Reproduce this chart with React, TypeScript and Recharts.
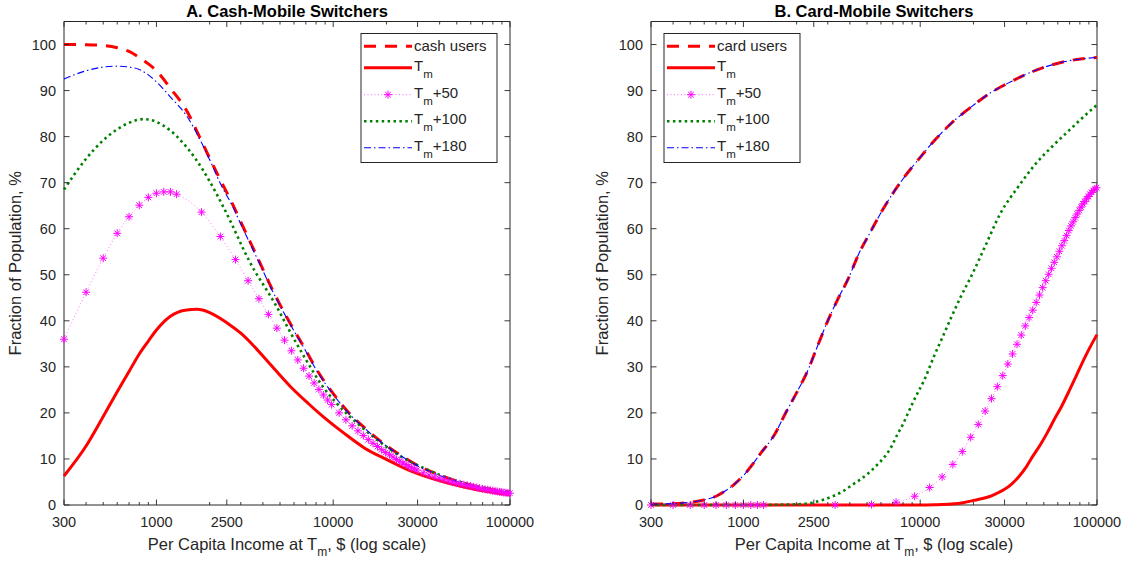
import React from 'react';
import { LineChart, Line, XAxis, YAxis, ReferenceArea } from 'recharts';

// ---------------- data ----------------
const xTicksMajor = [300, 1000, 2500, 10000, 30000, 100000];
const xTicksMinor = [400, 500, 600, 700, 800, 900, 2000, 3000, 4000, 5000, 6000, 7000, 8000, 9000, 20000, 40000, 50000, 60000, 70000, 80000, 90000];
const yTicks = [0, 10, 20, 30, 40, 50, 60, 70, 80, 90, 100];

// Panel A: Cash-Mobile switchers
const aCashX = [300, 400, 500, 600, 700, 800, 900, 1000, 1200, 1500, 1750, 2000, 2300, 2700, 3000, 3500, 4000, 4500, 5000, 6000, 7000, 8000, 10000, 12000, 15000, 20000, 25000, 30000, 40000, 50000, 65000, 80000, 100000];
const aCashUsers = [100, 99.95, 99.8, 99.3, 98.5, 97.2, 95.8, 94.3, 90.5, 85.3, 80.0, 75.3, 70.6, 65.3, 61.5, 56.0, 51.2, 47.0, 43.5, 38.0, 33.6, 29.6, 24.2, 20.4, 16.8, 12.9, 10.4, 8.6, 6.5, 5.2, 4.0, 3.3, 2.8];
const aTm180 = [92.5, 94.3, 95.1, 95.3, 95.1, 94.6, 93.4, 91.9, 88.6, 84.2, 79.6, 75.0, 69.8, 64.8, 61.0, 55.6, 50.9, 46.7, 43.3, 37.8, 33.4, 29.4, 24.0, 20.3, 16.7, 12.8, 10.3, 8.5, 6.4, 5.1, 3.9, 3.2, 2.7];

const aTm100X = [300, 400, 500, 600, 700, 850, 1000, 1200, 1400, 1650, 2000, 2400, 2700, 3100, 3600, 4000, 4800, 5500, 7000, 8700, 10500, 14000, 18500, 24500, 35000, 50000, 70000, 100000];
const aTm100 = [68.5, 75.2, 79.2, 81.6, 83.0, 83.8, 83.2, 81.3, 78.8, 75.4, 70.3, 64.6, 60.6, 55.6, 50.8, 48.0, 43.0, 38.7, 31.6, 25.8, 22.0, 17.4, 13.6, 10.4, 7.5, 5.2, 3.8, 2.8];

const aTmX = [300, 400, 500, 600, 700, 800, 900, 1000, 1200, 1450, 1700, 2000, 2500, 3000, 3500, 4300, 5700, 7200, 8700, 11500, 15000, 20000, 29500, 45000, 65000, 100000];
const aTm = [6.3, 12.8, 19.2, 24.6, 29.0, 32.8, 35.6, 38.0, 41.0, 42.3, 42.5, 41.8, 39.6, 37.3, 34.8, 31.0, 25.8, 22.1, 19.3, 15.6, 12.4, 9.9, 6.9, 4.7, 3.3, 2.2];

const aTm50X = [300, 400, 500, 600, 700, 800, 900, 1000, 1100, 1200, 1300, 1800, 2300, 2800, 3300, 3800, 4300, 4800, 5300, 5800, 6300, 6800, 7300, 7800, 8300, 8800, 9300, 9800, 10800, 11800, 12800, 13800, 14800, 15800, 16800, 17800, 18800, 19800, 20800, 21800, 22800, 23800, 24800, 25800, 26800, 27800, 28800, 29800, 32300, 34800, 37300, 39800, 42300, 44800, 47300, 49800, 52300, 54800, 57300, 59800, 62300, 64800, 67300, 69800, 72300, 74800, 77300, 79800, 82300, 84800, 87300, 89800, 92300, 94800, 97300, 99800];
const aTm50 = [36.0, 46.2, 53.6, 59.0, 62.6, 65.1, 66.8, 67.7, 68.0, 68.0, 67.5, 63.6, 58.3, 53.3, 48.7, 44.8, 41.4, 38.4, 35.8, 33.5, 31.5, 29.7, 28.0, 26.5, 25.1, 23.9, 22.8, 21.8, 20.0, 18.5, 17.2, 16.1, 15.1, 14.2, 13.4, 12.7, 12.0, 11.4, 10.9, 10.4, 9.9, 9.5, 9.1, 8.8, 8.4, 8.1, 7.8, 7.6, 7.0, 6.5, 6.1, 5.8, 5.5, 5.2, 4.95, 4.75, 4.6, 4.4, 4.25, 4.1, 3.95, 3.8, 3.65, 3.5, 3.4, 3.3, 3.2, 3.1, 3.0, 2.95, 2.85, 2.8, 2.7, 2.65, 2.6, 2.55];

// Panel B: Card-Mobile switchers
const bCardX = [300, 400, 500, 600, 700, 800, 900, 1000, 1250, 1500, 1750, 2000, 2300, 2600, 3000, 3400, 3900, 4500, 5200, 5900, 6900, 8200, 10000, 12000, 15000, 19500, 24500, 32500, 45000, 66000, 100000];
const bCardUsers = [0.2, 0.3, 0.6, 1.1, 1.9, 3.2, 4.7, 6.4, 11.2, 15.3, 20.3, 24.4, 29.0, 34.1, 40.0, 44.5, 49.0, 54.6, 59.1, 63.0, 67.3, 71.4, 75.5, 79.1, 82.9, 86.5, 89.3, 91.9, 94.4, 96.3, 97.2];
const bTm180 = [0.2, 0.3, 0.6, 1.1, 1.9, 3.2, 4.7, 6.4, 11.2, 15.3, 20.3, 24.4, 29.0, 34.1, 40.0, 44.5, 49.0, 54.6, 59.1, 63.0, 67.3, 71.4, 75.5, 79.1, 82.9, 86.5, 89.3, 91.9, 94.4, 96.3, 97.2];

const bTm100X = [300, 1000, 1500, 2000, 2450, 2800, 3250, 3700, 4100, 4600, 5200, 5700, 6300, 6900, 7400, 8000, 8500, 9000, 9600, 10500, 12000, 13500, 15000, 17000, 19500, 23500, 28300, 36000, 45000, 57000, 72000, 85000, 100000];
const bTm100 = [0, 0, 0.05, 0.15, 0.5, 1.1, 2.0, 3.1, 4.3, 5.6, 7.2, 8.7, 10.5, 12.8, 15.2, 17.6, 19.8, 21.9, 24.1, 27.0, 32.4, 36.8, 40.8, 45.3, 49.8, 56.5, 63.2, 69.2, 74.1, 78.2, 81.9, 84.5, 86.9];

const bTmX = [300, 10000, 12000, 15000, 17500, 20000, 22500, 24500, 27000, 30000, 33000, 36000, 40000, 43000, 48000, 52000, 57000, 63000, 70000, 76000, 85000, 92000, 100000];
const bTm = [0, 0, 0.05, 0.2, 0.5, 1.0, 1.4, 1.8, 2.5, 3.4, 4.6, 6.1, 8.4, 10.4, 13.2, 15.5, 18.4, 21.4, 25.0, 27.9, 31.9, 34.5, 37.0];

const bTm50X = [300, 400, 500, 600, 700, 800, 900, 1000, 1100, 1200, 1300, 3300, 5300, 7300, 9300, 11300, 13300, 15300, 17300, 19300, 21300, 23300, 25300, 27300, 29300, 31300, 33300, 35300, 37300, 39300, 41300, 43300, 45300, 47300, 49300, 51300, 53300, 55300, 57300, 59300, 61300, 63300, 65300, 67300, 69300, 71300, 73300, 75300, 77300, 79300, 81300, 83300, 85300, 87300, 89300, 91300, 93300, 95300, 97300, 99300];
const bTm50 = [0, 0, 0, 0, 0, 0, 0, 0, 0, 0, 0, 0.02, 0.1, 0.6, 1.9, 3.8, 6.1, 8.8, 11.6, 14.7, 17.5, 20.4, 23.1, 25.7, 28.1, 30.6, 32.8, 34.9, 36.9, 38.9, 40.7, 42.3, 44.0, 45.6, 47.2, 48.7, 50.1, 51.4, 52.7, 53.9, 55.1, 56.3, 57.4, 58.5, 59.6, 60.6, 61.5, 62.4, 63.2, 64.0, 64.7, 65.4, 65.9, 66.5, 67.0, 67.5, 67.9, 68.3, 68.6, 68.9];

// ---------------- styles ----------------
const AX = '#262626';
const FONT = '"Liberation Sans", Arial, Helvetica, sans-serif';
const H = 561;
const MT = 21.5;
const MB = 56;
const PLOT_BOTTOM = H - MB;

const RED = '#ff0000';
const MAG = '#ff00ff';
const GREEN = '#008000';
const BLUE = '#0000ff';

const zip = (xs: number[], ys: number[]) => xs.map((x, i) => ({ x, v: ys[i] }));

const XTick = (props: any) => {
  const { x, y, payload } = props;
  const v = payload.value;
  const major = xTicksMajor.includes(v);
  const len = major ? 5.5 : 3;
  return (
    <g>
      <line x1={x} x2={x} y1={y} y2={y - len} stroke={AX} strokeWidth={0.9} />
      <line x1={x} x2={x} y1={MT} y2={MT + len} stroke={AX} strokeWidth={0.9} />
      {major && (
        <text x={x} y={y + 21.5} textAnchor="middle" fontSize={14.5} fill={AX} fontFamily={FONT}>
          {v}
        </text>
      )}
    </g>
  );
};

const YTick = (props: any) => {
  const { x, y, payload, right } = props;
  return (
    <g>
      <line x1={x} x2={x + 5.5} y1={y} y2={y} stroke={AX} strokeWidth={0.9} />
      <line x1={right} x2={right - 5.5} y1={y} y2={y} stroke={AX} strokeWidth={0.9} />
      <text x={x - 8} y={y + 5} textAnchor="end" fontSize={14.5} fill={AX} fontFamily={FONT}>
        {payload.value}
      </text>
    </g>
  );
};

const Star = ({ cx, cy }: { cx: number; cy: number }) => {
  const r = 4;
  const d = r * 0.7071;
  return (
    <g stroke={MAG} strokeWidth={1} fill="none">
      <line x1={cx - r} y1={cy} x2={cx + r} y2={cy} />
      <line x1={cx} y1={cy - r} x2={cx} y2={cy + r} />
      <line x1={cx - d} y1={cy - d} x2={cx + d} y2={cy + d} />
      <line x1={cx - d} y1={cy + d} x2={cx + d} y2={cy - d} />
    </g>
  );
};

const renderStar = (p: any) => {
  if (p.cx == null || p.cy == null) return <g key={p.key ?? p.index} />;
  return (
    <g key={p.key ?? `s-${p.index}`}>
      <Star cx={p.cx} cy={p.cy} />
    </g>
  );
};

const STYLE_USERS = { stroke: RED, strokeWidth: 3, strokeDasharray: '12 9' };
const STYLE_TM = { stroke: RED, strokeWidth: 3 };
const STYLE_TM50 = { stroke: MAG, strokeWidth: 1, strokeDasharray: '1 2.5', strokeOpacity: 0.55 };
const STYLE_TM100 = { stroke: GREEN, strokeWidth: 2.6, strokeDasharray: '2.5 3.4' };
const STYLE_TM180 = { stroke: BLUE, strokeWidth: 1.1, strokeDasharray: '7 3 1.5 3' };

type Pt = { x: number; v: number };
type PanelProps = {
  left: number;
  width: number;
  plotL: number;
  plotR: number;
  title: string;
  usersLabel: string;
  legendX: number;
  users: Pt[];
  tm: Pt[];
  tm50: Pt[];
  tm100: Pt[];
  tm180: Pt[];
};

const LegendBox = ({ x0, usersLabel }: { x0: number; usersLabel: string }) => {
  const y0 = 33.5;
  const w = 136;
  const h = 129;
  const rows = [46.2, 67.8, 94.7, 121.2, 147.8];
  const sx1 = x0 + 3;
  const sx2 = x0 + 51;
  const tx = x0 + 53;
  const entries = [
    { style: STYLE_USERS, label: null as null | string },
    { style: STYLE_TM, label: '' },
    { style: { ...STYLE_TM50, strokeOpacity: 0.6 }, label: '+50', star: true },
    { style: STYLE_TM100, label: '+100' },
    { style: STYLE_TM180, label: '+180' },
  ];
  return (
    <g fontFamily={FONT} fill={AX}>
      <rect x={x0} y={y0} width={w} height={h} fill="#ffffff" stroke={AX} strokeWidth={1} />
      {entries.map((e: any, i) => {
        const ly = rows[i];
        return (
          <g key={i}>
            <line x1={sx1} x2={sx2} y1={ly} y2={ly} {...e.style} fill="none" />
            {e.star && <Star cx={(sx1 + sx2) / 2} cy={ly} />}
            {e.label === null ? (
              <text x={tx} y={ly + 5} fontSize={15} fill={AX}>
                {usersLabel}
              </text>
            ) : (
              <text x={tx} y={ly + 3} fontSize={15} fill={AX}>
                T
                <tspan fontSize={11.5} dy={7}>m</tspan>
                <tspan dy={-7}>{e.label}</tspan>
              </text>
            )}
          </g>
        );
      })}
    </g>
  );
};

const Panel = (p: PanelProps) => {
  const cx = (p.plotL + p.plotR) / 2;
  const cy = (MT + PLOT_BOTTOM) / 2;
  const ylx = p.plotL - 43;
  return (
    <div style={{ position: 'absolute', left: p.left, top: 0, width: p.width, height: H }}>
      <LineChart
        width={p.width}
        height={H}
        margin={{ top: MT, bottom: MB - 1, left: p.plotL - 1, right: p.width - p.plotR }}
      >
        <ReferenceArea x1={300} x2={100000} y1={0} y2={105} fill="none" stroke={AX} strokeWidth={1} ifOverflow="visible" />
        <XAxis
          dataKey="x"
          type="number"
          scale="log"
          domain={[300, 100000]}
          ticks={[...xTicksMajor, ...xTicksMinor].sort((a, b) => a - b)}
          interval={0}
          height={1}
          tickSize={0}
          tickMargin={0}
          axisLine={false}
          tickLine={false}
          tick={(tp: any) => <XTick {...tp} />}
        />
        <YAxis
          type="number"
          domain={[0, 105]}
          ticks={yTicks}
          interval={0}
          width={1}
          tickSize={0}
          tickMargin={0}
          axisLine={false}
          tickLine={false}
          tick={(tp: any) => <YTick {...tp} right={p.plotR} />}
        />
        <Line data={p.users} dataKey="v" type="monotone" {...STYLE_USERS} dot={false} activeDot={false} isAnimationActive={false} />
        <Line data={p.tm} dataKey="v" type="monotone" {...STYLE_TM} dot={false} activeDot={false} isAnimationActive={false} />
        <Line data={p.tm50} dataKey="v" type="monotone" {...STYLE_TM50} dot={renderStar} activeDot={false} isAnimationActive={false} />
        <Line data={p.tm100} dataKey="v" type="monotone" {...STYLE_TM100} dot={false} activeDot={false} isAnimationActive={false} />
        <Line data={p.tm180} dataKey="v" type="monotone" {...STYLE_TM180} dot={false} activeDot={false} isAnimationActive={false} />
      </LineChart>
      <svg
        width={p.width}
        height={H}
        style={{ position: 'absolute', left: 0, top: 0, pointerEvents: 'none' }}
      >
        <text x={cx} y={16.5} textAnchor="middle" fontSize={16.5} fontWeight="bold" fill="#000" fontFamily={FONT}>
          {p.title}
        </text>
        <text x={cx} y={550} textAnchor="middle" fontSize={16.5} fill={AX} fontFamily={FONT}>
          Per Capita Income at T
          <tspan fontSize={12} dy={6}>m</tspan>
          <tspan dy={-6}>, $ (log scale)</tspan>
        </text>
        <text
          x={ylx}
          y={cy}
          textAnchor="middle"
          fontSize={16.5}
          fill={AX}
          fontFamily={FONT}
          transform={`rotate(-90 ${ylx} ${cy})`}
        >
          Fraction of Population, %
        </text>
        <LegendBox x0={p.legendX} usersLabel={p.usersLabel} />
      </svg>
    </div>
  );
};

export default function App() {
  return (
    <div style={{ position: 'absolute', left: 0, top: 0, width: 1123, height: H, background: '#ffffff', overflow: 'hidden' }}>
      <Panel
        left={0}
        width={560}
        plotL={64}
        plotR={510}
        title="A. Cash-Mobile Switchers"
        usersLabel="cash users"
        legendX={361}
        users={zip(aCashX, aCashUsers)}
        tm={zip(aTmX, aTm)}
        tm50={zip(aTm50X, aTm50)}
        tm100={zip(aTm100X, aTm100)}
        tm180={zip(aCashX, aTm180)}
      />
      <Panel
        left={560}
        width={563}
        plotL={91}
        plotR={537}
        title="B. Card-Mobile Switchers"
        usersLabel="card users"
        legendX={104}
        users={zip(bCardX, bCardUsers)}
        tm={zip(bTmX, bTm)}
        tm50={zip(bTm50X, bTm50)}
        tm100={zip(bTm100X, bTm100)}
        tm180={zip(bCardX, bTm180)}
      />
    </div>
  );
}
